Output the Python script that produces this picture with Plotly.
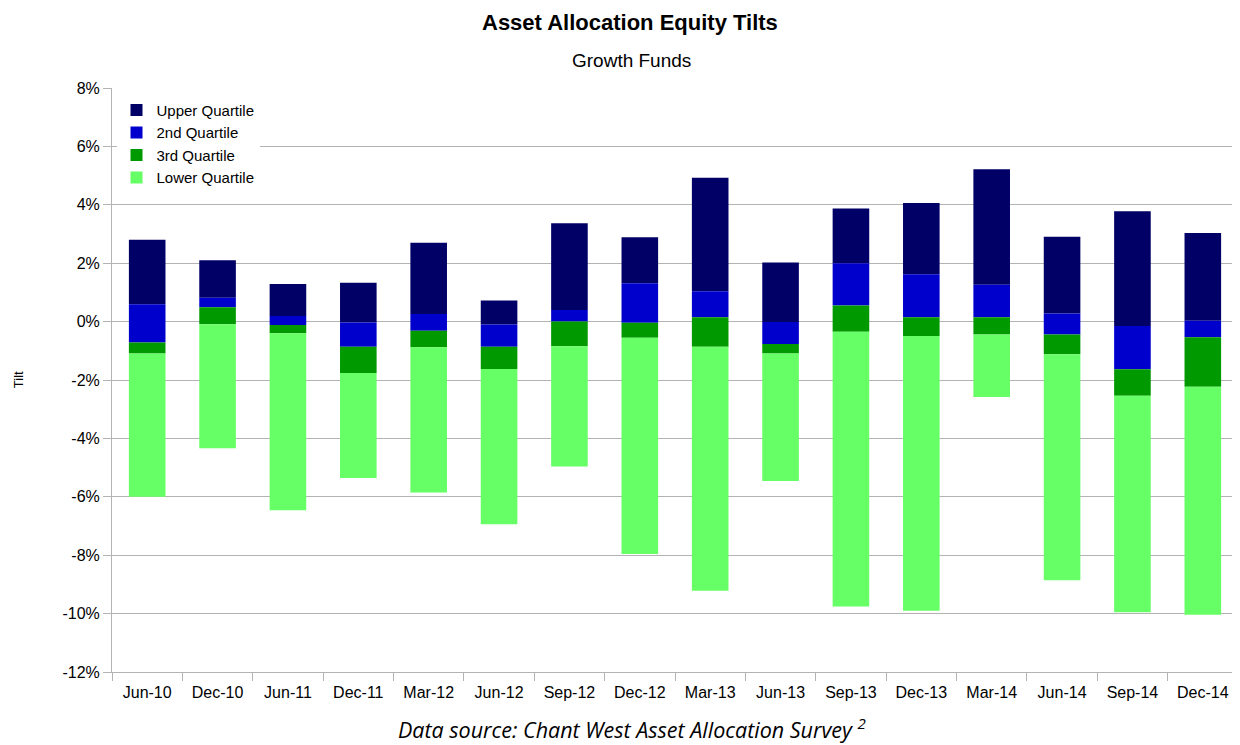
import plotly.graph_objects as go

categories = ["Jun-10", "Dec-10", "Jun-11", "Dec-11", "Mar-12", "Jun-12", "Sep-12", "Dec-12",
              "Mar-13", "Jun-13", "Sep-13", "Dec-13", "Mar-14", "Jun-14", "Sep-14", "Dec-14"]

# Quartile boundaries (%)
top_vals    = [2.80, 2.10, 1.29, 1.33, 2.70, 0.72, 3.37, 2.89, 4.93, 2.02, 3.87, 4.06, 5.22, 2.91, 3.78, 3.03]
q3_vals     = [0.59, 0.82, 0.19, -0.03, 0.26, -0.10, 0.40, 1.31, 1.04, -0.01, 2.00, 1.62, 1.26, 0.28, -0.15, 0.03]
median_vals = [-0.72, 0.49, -0.12, -0.86, -0.31, -0.86, 0.00, -0.04, 0.15, -0.77, 0.55, 0.15, 0.15, -0.44, -1.63, -0.54]
q1_vals     = [-1.09, -0.09, -0.40, -1.76, -0.88, -1.62, -0.84, -0.55, -0.86, -1.09, -0.35, -0.49, -0.44, -1.12, -2.54, -2.23]
bottom_vals = [-6.00, -4.34, -6.46, -5.36, -5.85, -6.94, -4.96, -7.96, -9.22, -5.46, -9.76, -9.90, -2.58, -8.86, -9.95, -10.04]

y_tick_vals = [-12, -10, -8, -6, -4, -2, 0, 2, 4, 6, 8]
y_tick_text = ["-12%", "-10%", "-8%", "-6%", "-4%", "-2%", "0%", "2%", "4%", "6%", "8%"]

series = [
    ("Upper Quartile", q3_vals, top_vals, "#000066"),
    ("2nd Quartile", median_vals, q3_vals, "#0000CC"),
    ("3rd Quartile", q1_vals, median_vals, "#009900"),
    ("Lower Quartile", bottom_vals, q1_vals, "#66FF66"),
]

fig = go.Figure()
for name, lo, hi, color in series:
    fig.add_trace(go.Bar(
        x=categories,
        base=lo,
        y=[h - l for h, l in zip(hi, lo)],
        name=name,
        marker=dict(color=color, line=dict(width=0)),
    ))

font_family = "Liberation Sans, Arial, sans-serif"

# page body has an 8px margin; size figure so plot area sits at x 112..1238, y 88..672
fig.update_layout(
    width=1232, height=737,
    barmode="overlay",
    bargap=0.48,
    paper_bgcolor="white",
    plot_bgcolor="white",
    margin=dict(l=104, r=2, t=80, b=73),
    font=dict(family=font_family, size=16, color="#000000"),
    showlegend=True,
    legend=dict(
        x=0.004, y=0.99, xanchor="left", yanchor="top",
        bgcolor="white", font=dict(size=15),
        traceorder="normal", itemwidth=30, tracegroupgap=0,
    ),
    xaxis=dict(
        type="category",
        showgrid=False,
        ticks="outside", tickson="boundaries", ticklen=8,
        tickcolor="#b3b3b3",
        showline=True, linecolor="#b3b3b3", linewidth=1,
        tickfont=dict(size=16),
        ticklabelstandoff=6,
        range=[-0.5, 15.5],
    ),
    yaxis=dict(
        range=[-12, 8], tickvals=y_tick_vals, ticktext=y_tick_text,
        showgrid=True, gridcolor="#b3b3b3", gridwidth=1,
        zeroline=False,
        ticks="outside", ticklen=8, tickcolor="#b3b3b3",
        showline=True, linecolor="#b3b3b3", linewidth=1,
        tickfont=dict(size=16),
    ),
    annotations=[
        dict(text="<b>Asset Allocation Equity Tilts</b>", xref="paper", yref="paper",
             x=0.46, y=1 + 66 / 584, xanchor="center", yanchor="middle", showarrow=False,
             font=dict(size=22, family=font_family)),
        dict(text="Growth Funds", xref="paper", yref="paper",
             x=0.461, y=1 + 28 / 584, xanchor="center", yanchor="middle", showarrow=False,
             font=dict(size=19, family=font_family)),
        dict(text="Tilt", xref="paper", yref="paper", textangle=-90,
             x=-94 / 1128, y=0.5, xanchor="center", yanchor="middle", showarrow=False,
             font=dict(size=13, family=font_family)),
        dict(text="<i>Data source: Chant West Asset Allocation Survey <sup>2</sup></i>",
             xref="paper", yref="paper",
             x=0.462, y=1 - (729 - 88) / 584, xanchor="center", yanchor="middle", showarrow=False,
             font=dict(size=21.5, family="Open Sans, Liberation Sans, sans-serif")),
    ],
)

fig.write_html("out.html")
